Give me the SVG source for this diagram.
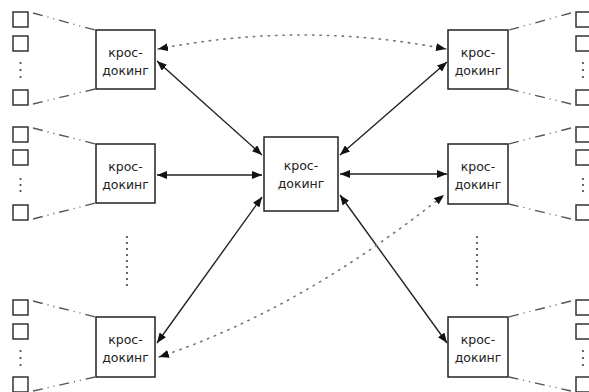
<svg xmlns="http://www.w3.org/2000/svg" width="589" height="392" viewBox="0 0 589 392">
<style>
.box{fill:#fff;stroke:#222;stroke-width:1.5}
.sq{fill:#fff;stroke:#333;stroke-width:1.5}
.t{font-family:"DejaVu Sans","Liberation Sans",sans-serif;font-size:12.5px;fill:#222;text-anchor:middle}
.arr{stroke:#222;stroke-width:1.4;fill:none;marker-start:url(#ah);marker-end:url(#ah)}
.dot{stroke:#777;stroke-width:1.6;fill:none;stroke-dasharray:1.4 6;stroke-linecap:round}
.dd{stroke:#555;stroke-width:1.3;fill:none;stroke-dasharray:10 5 1 5 1 5}
.vd{fill:#444}
</style>
<defs>
<marker id="ah" markerUnits="userSpaceOnUse" markerWidth="10" markerHeight="8" refX="10" refY="4" orient="auto-start-reverse" viewBox="0 0 10 8"><path d="M0,0 L10,4 L0,8 z" fill="#111"/></marker>
<marker id="ahg" markerUnits="userSpaceOnUse" markerWidth="10" markerHeight="8" refX="10" refY="4" orient="auto-start-reverse" viewBox="0 0 10 8"><path d="M0,0 L10,4 L0,8 z" fill="#111"/></marker>
</defs>
<g id="connectors">
<line class="arr" x1="157" y1="61" x2="262" y2="155"/>
<line class="arr" x1="157" y1="175" x2="262" y2="175"/>
<line class="arr" x1="157" y1="343" x2="262" y2="197"/>
<line class="arr" x1="340" y1="155" x2="447" y2="62"/>
<line class="arr" x1="340" y1="174" x2="447" y2="174"/>
<line class="arr" x1="340" y1="195" x2="447" y2="343"/>
<path class="dot" d="M158,49 Q302,21 446,49" marker-start="url(#ahg)" marker-end="url(#ahg)"/>
<path class="dot" d="M159,357 Q300,310 444,195" marker-start="url(#ahg)" marker-end="url(#ahg)"/>
<g class="dd">
<line x1="33" y1="13" x2="95" y2="30"/>
<line x1="33" y1="104" x2="95" y2="89"/>
<line x1="33" y1="128" x2="95" y2="144"/>
<line x1="33" y1="219" x2="95" y2="203"/>
<line x1="33" y1="301" x2="95" y2="317"/>
<line x1="33" y1="391" x2="95" y2="377"/>
<line x1="571" y1="13" x2="509" y2="30"/>
<line x1="571" y1="104" x2="509" y2="89"/>
<line x1="571" y1="128" x2="509" y2="144"/>
<line x1="571" y1="219" x2="509" y2="204"/>
<line x1="571" y1="301" x2="509" y2="317"/>
<line x1="571" y1="391" x2="509" y2="377"/>
</g>
</g>
<g id="sources-left">
<rect class="sq" x="13" y="12" width="15" height="15"/>
<rect class="sq" x="13" y="36" width="15" height="15"/>
<rect class="sq" x="13" y="90" width="15" height="15"/>
<circle class="vd" cx="20.5" cy="63" r="1.1"/><circle class="vd" cx="20.5" cy="70" r="1.1"/><circle class="vd" cx="20.5" cy="77" r="1.1"/>
<rect class="sq" x="13" y="127" width="15" height="15"/>
<rect class="sq" x="13" y="150" width="15" height="15"/>
<rect class="sq" x="13" y="205" width="15" height="15"/>
<circle class="vd" cx="20.5" cy="179" r="1.1"/><circle class="vd" cx="20.5" cy="185" r="1.1"/><circle class="vd" cx="20.5" cy="191" r="1.1"/>
<rect class="sq" x="13" y="300" width="15" height="15"/>
<rect class="sq" x="13" y="324" width="15" height="15"/>
<rect class="sq" x="13" y="377" width="15" height="15"/>
<circle class="vd" cx="20.5" cy="351" r="1.1"/><circle class="vd" cx="20.5" cy="358" r="1.1"/><circle class="vd" cx="20.5" cy="365" r="1.1"/>
</g>
<g id="sources-right">
<rect class="sq" x="576" y="12" width="15" height="15"/>
<rect class="sq" x="576" y="36" width="15" height="15"/>
<rect class="sq" x="576" y="90" width="15" height="15"/>
<circle class="vd" cx="583" cy="63" r="1.1"/><circle class="vd" cx="583" cy="70" r="1.1"/><circle class="vd" cx="583" cy="77" r="1.1"/>
<rect class="sq" x="576" y="127" width="15" height="15"/>
<rect class="sq" x="576" y="150" width="15" height="15"/>
<rect class="sq" x="576" y="205" width="15" height="15"/>
<circle class="vd" cx="583" cy="179" r="1.1"/><circle class="vd" cx="583" cy="185" r="1.1"/><circle class="vd" cx="583" cy="191" r="1.1"/>
<rect class="sq" x="576" y="300" width="15" height="15"/>
<rect class="sq" x="576" y="324" width="15" height="15"/>
<rect class="sq" x="576" y="377" width="15" height="15"/>
<circle class="vd" cx="583" cy="351" r="1.1"/><circle class="vd" cx="583" cy="358" r="1.1"/><circle class="vd" cx="583" cy="365" r="1.1"/>
</g>
<g id="vdots">
<g class="vd">
<circle cx="127" cy="237" r="1.1"/><circle cx="127" cy="243" r="1.1"/><circle cx="127" cy="249" r="1.1"/><circle cx="127" cy="255" r="1.1"/><circle cx="127" cy="261" r="1.1"/><circle cx="127" cy="267" r="1.1"/><circle cx="127" cy="273" r="1.1"/><circle cx="127" cy="279" r="1.1"/><circle cx="127" cy="285" r="1.1"/>
<circle cx="477" cy="237" r="1.1"/><circle cx="477" cy="243" r="1.1"/><circle cx="477" cy="249" r="1.1"/><circle cx="477" cy="255" r="1.1"/><circle cx="477" cy="261" r="1.1"/><circle cx="477" cy="267" r="1.1"/><circle cx="477" cy="273" r="1.1"/><circle cx="477" cy="279" r="1.1"/><circle cx="477" cy="285" r="1.1"/>
</g>
</g>
<g id="node-tl"><rect class="box" x="96" y="30" width="59" height="59"/><text class="t" x="125.5" y="57">крос-</text><text class="t" x="125.5" y="75">докинг</text></g>
<g id="node-ml"><rect class="box" x="96" y="144" width="59" height="59"/><text class="t" x="125.5" y="171">крос-</text><text class="t" x="125.5" y="189">докинг</text></g>
<g id="node-bl"><rect class="box" x="96" y="317" width="59" height="60"/><text class="t" x="125.5" y="344">крос-</text><text class="t" x="125.5" y="362">докинг</text></g>
<g id="node-c"><rect class="box" x="264" y="137" width="74" height="74"/><text class="t" x="301" y="170">крос-</text><text class="t" x="301" y="188">докинг</text></g>
<g id="node-tr"><rect class="box" x="448" y="30" width="60" height="59"/><text class="t" x="478" y="57">крос-</text><text class="t" x="478" y="75">докинг</text></g>
<g id="node-mr"><rect class="box" x="448" y="144" width="60" height="60"/><text class="t" x="478" y="171">крос-</text><text class="t" x="478" y="189">докинг</text></g>
<g id="node-br"><rect class="box" x="448" y="317" width="60" height="60"/><text class="t" x="478" y="344">крос-</text><text class="t" x="478" y="362">докинг</text></g>
</svg>
